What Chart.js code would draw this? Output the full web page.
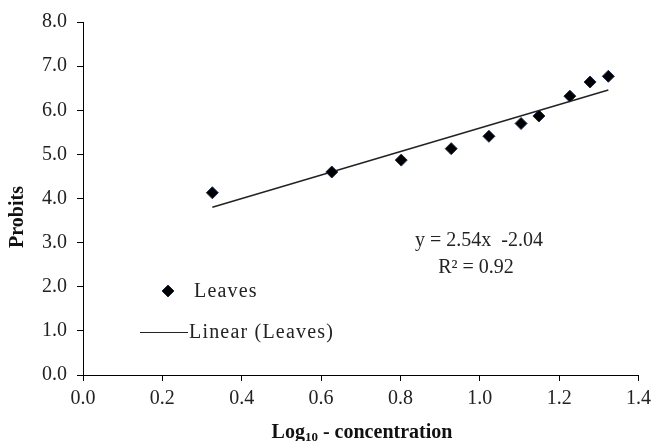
<!DOCTYPE html>
<html><head><meta charset="utf-8">
<script src="https://cdn.jsdelivr.net/npm/chart.js@4/dist/chart.umd.min.js"></script>
<style>html,body{margin:0;padding:0;background:#fff}canvas{display:block}</style>
</head><body>
<canvas id="c" width="651" height="441"></canvas>
<script>
// Data
const logConc = [0.326, 0.627, 0.802, 0.928, 1.023, 1.104, 1.149, 1.227, 1.278, 1.324];
const probits = [4.13, 4.60, 4.87, 5.13, 5.41, 5.70, 5.87, 6.32, 6.64, 6.77];
const trendX = [0.326, 1.324];
const trendY = [3.80, 6.46];
const xTicks = [0.0, 0.2, 0.4, 0.6, 0.8, 1.0, 1.2, 1.4];
const yTicks = [0, 1, 2, 3, 4, 5, 6, 7, 8];
const seriesName = 'Leaves';
const trendName = 'Linear (Leaves)';
const equationLines = ['y = 2.54x  -2.04', 'R\u00B2 = 0.92'];
const xTitleParts = ['Log', '10', ' - concentration'];
const yTitle = 'Probits';

const FONT = "'Liberation Serif', 'Times New Roman', serif";
const TXT = '#222';

new Chart(document.getElementById('c'), {
  type: 'scatter',
  data: {
    datasets: [
      {
        label: seriesName,
        data: logConc.map((x, i) => ({ x: x, y: probits[i] })),
        pointStyle: 'rectRot',
        pointRadius: 6,
        pointHoverRadius: 6,
        backgroundColor: '#000',
        borderColor: '#1c2a4d',
        borderWidth: 1,
        showLine: false
      },
      {
        label: trendName,
        data: trendX.map((x, i) => ({ x: x, y: trendY[i] })),
        showLine: true,
        borderColor: '#222',
        borderWidth: 1.5,
        pointRadius: 0,
        fill: false
      }
    ]
  },
  options: {
    responsive: false,
    devicePixelRatio: 1,
    animation: false,
    layout: { padding: { left: 0, right: 12.5, top: 21, bottom: 0 } },
    plugins: { legend: { display: false }, tooltip: { enabled: false } },
    scales: {
      x: {
        type: 'linear', min: 0, max: 1.4,
        afterBuildTicks: s => { s.ticks = xTicks.map(v => ({ value: v })); },
        afterFit: s => { s.height = 66; s.paddingRight = 0; s.paddingLeft = 0; },
        ticks: { callback: v => Number(v).toFixed(1), color: TXT, font: { family: FONT, size: 20 }, padding: 6, maxRotation: 0 },
        grid: { display: true, drawOnChartArea: false, drawTicks: true, tickLength: 6, color: '#000' },
        border: { display: true, color: '#000', width: 1 },
        title: { display: false }
      },
      y: {
        type: 'linear', min: 0, max: 8,
        afterBuildTicks: s => { s.ticks = yTicks.map(v => ({ value: v })); },
        afterFit: s => { s.width = 83; },
        ticks: { callback: v => Number(v).toFixed(1), color: TXT, font: { family: FONT, size: 20 }, padding: 10 },
        grid: { display: true, drawOnChartArea: false, drawTicks: true, tickLength: 6, color: '#000' },
        border: { display: true, color: '#000', width: 1 },
        title: { display: false }
      }
    }
  },
  plugins: [{
    id: 'extras',
    afterDraw(chart) {
      const ctx = chart.ctx, a = chart.chartArea;
      ctx.save();
      // legend diamond
      ctx.fillStyle = '#000';
      ctx.strokeStyle = '#1c2a4d';
      ctx.lineWidth = 1;
      Chart.helpers.drawPoint(ctx, { pointStyle: 'rectRot', radius: 6, rotation: 0, borderWidth: 1 }, a.left + 85, 291);
      // equation
      ctx.fillStyle = TXT;
      ctx.font = '20px ' + FONT;
      ctx.textAlign = 'center';
      ctx.textBaseline = 'middle';
      ctx.fillText(equationLines[0], a.left + 396, 241);
      ctx.fillText(equationLines[1], a.left + 393, 268);
      // legend texts
      ctx.textAlign = 'left';
      ctx.font = '20px ' + FONT;
      ctx.letterSpacing = '1.2px';
      ctx.fillText(chart.data.datasets[0].label, a.left + 111, 292);
      ctx.fillText(chart.data.datasets[1].label, a.left + 106, 333);
      ctx.letterSpacing = '0px';
      ctx.strokeStyle = '#222';
      ctx.lineWidth = 1.2;
      ctx.beginPath();
      ctx.moveTo(a.left + 57, 332.5);
      ctx.lineTo(a.left + 105, 332.5);
      ctx.stroke();
      // y title
      ctx.fillStyle = '#111';
      ctx.font = 'bold 20px ' + FONT;
      ctx.save();
      ctx.translate(18, 217);
      ctx.rotate(-Math.PI / 2);
      ctx.textAlign = 'center';
      ctx.fillText(yTitle, 0, 0);
      ctx.restore();
      // x title with subscript
      const big = 'bold 20px ' + FONT, small = 'bold 13px ' + FONT;
      ctx.font = big; const w0 = ctx.measureText(xTitleParts[0]).width;
      ctx.font = small; const w1 = ctx.measureText(xTitleParts[1]).width;
      ctx.font = big; const w2 = ctx.measureText(xTitleParts[2]).width;
      let x = 362 - (w0 + w1 + w2) / 2;
      const yb = 438;
      ctx.textAlign = 'left';
      ctx.textBaseline = 'alphabetic';
      ctx.font = big; ctx.fillText(xTitleParts[0], x, yb); x += w0;
      ctx.font = small; ctx.fillText(xTitleParts[1], x, yb + 3); x += w1;
      ctx.font = big; ctx.fillText(xTitleParts[2], x, yb);
      ctx.restore();
    }
  }]
});
</script>
</body></html>
